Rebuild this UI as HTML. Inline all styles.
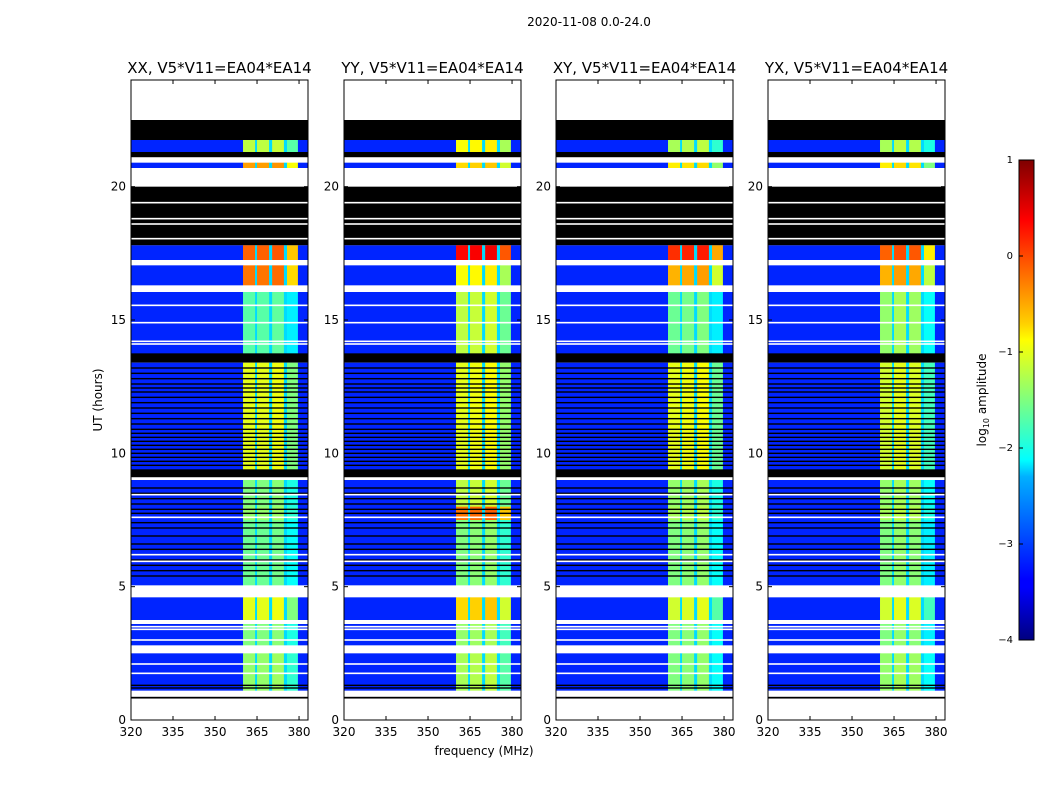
<!DOCTYPE html>
<html><head><meta charset="utf-8">
<style>
html,body{margin:0;padding:0;background:#fff;}
svg{display:block;font-family:"DejaVu Sans","Liberation Sans",sans-serif;}
</style></head>
<body>
<svg id="chart" width="1050" height="800" viewBox="0 0 1050 800">
  <defs>
    <linearGradient id="jet" x1="0" y1="1" x2="0" y2="0">
      <stop offset="0" stop-color="#00007f"/>
      <stop offset="0.11" stop-color="#0000ff"/>
      <stop offset="0.125" stop-color="#0000ff"/>
      <stop offset="0.34" stop-color="#00b0ff"/>
      <stop offset="0.375" stop-color="#00ffff"/>
      <stop offset="0.5" stop-color="#7fff7f"/>
      <stop offset="0.625" stop-color="#ffff00"/>
      <stop offset="0.66" stop-color="#ffd000"/>
      <stop offset="0.875" stop-color="#ff0000"/>
      <stop offset="1" stop-color="#7f0000"/>
    </linearGradient>
  </defs>
  <text x="589" y="26" font-size="12" text-anchor="middle">2020-11-08 0.0-24.0</text>
  <text x="484" y="755" font-size="12" text-anchor="middle">frequency (MHz)</text>
  <text x="0" y="0" font-size="12" text-anchor="middle" transform="translate(102,400) rotate(-90)">UT (hours)</text>
  <g id="panels"></g>
  <g id="colorbar">
    <rect x="1019" y="160" width="15" height="480" fill="url(#jet)" stroke="#000" stroke-width="1"/>
    <text x="0" y="0" font-size="12" text-anchor="middle" transform="translate(986,400) rotate(-90)">log<tspan font-size="8" dy="3">10</tspan><tspan dy="-3"> amplitude</tspan></text>
  </g>
</svg>
<script>
// ---- data ----
const panelTitles = ["XX, V5*V11=EA04*EA14","YY, V5*V11=EA04*EA14","XY, V5*V11=EA04*EA14","YX, V5*V11=EA04*EA14"];
const xTicks = [320,335,350,365,380];
const yTicks = [0,5,10,15,20];
const cbTicks = [1,0,-1,-2,-3,-4];
// frequency segments (MHz): kind 0 = background, 1..4 = bright channel strips, 9 = gap between strips
const segStart = [320,360,364.3,365,369.3,370.4,374.6,375.7,379.6];
const segEnd   = [360,364.3,365,369.3,370.4,374.6,375.7,379.6,383.2];
const segKind  = [0,1,9,2,9,3,9,4,0];
// per-strip offsets (log10 amplitude) per panel
const stripOffset = [[0,0,0.05,-0.5],[0,0.05,0.1,-0.4],[0,0.05,0.1,-0.6],[0,0.1,0.05,-0.7]];
const bgLevel = -3.2;
const gapLevel = -2.3;
// time bands (hours): type 0 data, 1 flagged (white), 2 black
const bandStart = [22.5,21.75,21.3,21.1,20.9,20.7,20.0,17.8,17.25,17.05,16.3,16.05,13.75,13.4,9.4,9.1,9.0,8.0,7.5,5.05,4.6,3.75,3.6,2.8,2.5,1.1,0.87,0.8,0];
const bandEnd   = [24,22.5,21.75,21.3,21.1,20.9,20.7,20.0,17.8,17.25,17.05,16.3,16.05,13.75,13.4,9.4,9.1,9.0,8.0,7.5,5.05,4.6,3.75,3.6,2.8,2.5,1.1,0.87,0.8];
const bandType  = [1,2,0,2,1,0,1,2,0,1,0,1,0,2,0,2,1,0,0,0,1,0,1,0,1,0,1,2,1];
// strip level of each band per panel (only data bands used)
const levelXX = [0,0,-1.2,0,0,-0.4,0,0,-0.1,0,-0.2,0,-1.7,0,-1.0,0,0,-1.5,-1.4,-1.6,0,-1.0,0,-1.5,0,-1.4,0,0,0];
const levelYY = [0,0,-0.9,0,0,-0.7,0,0,0.35,0,-0.9,0,-1.2,0,-1.0,0,0,-1.2,-0.2,-1.5,0,-0.7,0,-1.4,0,-1.3,0,0,0];
const levelXY = [0,0,-1.3,0,0,-0.8,0,0,0.15,0,-0.5,0,-1.6,0,-1.0,0,0,-1.4,-1.3,-1.5,0,-1.1,0,-1.5,0,-1.5,0,0,0];
const levelYX = [0,0,-1.3,0,0,-0.8,0,0,-0.1,0,-0.5,0,-1.4,0,-1.1,0,0,-1.4,-1.3,-1.5,0,-1.1,0,-1.5,0,-1.4,0,0,0];
const panelLevels = [levelXX,levelYY,levelXY,levelYX];
// thin flagged rows (hours)
const blackLines = [13.2,13.0,12.8,12.6,12.45,12.3,12.1,11.9,11.7,11.5,11.3,11.1,10.9,10.75,10.6,10.45,10.3,10.15,10.0,9.85,9.7,9.55,8.7,8.5,8.3,8.1,7.9,7.75,7.4,7.2,6.9,6.6,6.4,6.2,6.0,5.8,5.6,5.4,1.3,1.2];
const whiteLines = [22.55,19.4,18.8,18.6,18.05,15.55,14.9,14.2,14.1,8.45,7.6,6.2,5.95,3.5,3.4,3.0,2.1,1.75];

// ---- scales ----
const panelLeft = [131,344,556,768];
const PW = 177, PT = 80, PB = 720;
const fMin = 320, fMax = 383.2, tMin = 0, tMax = 24;
function xs(p,f){return panelLeft[p] + (f - fMin) / (fMax - fMin) * PW;}
function ys(t){return PB - (t - tMin) / (tMax - tMin) * (PB - PT);}
function cbY(v){return 640 - (v + 4) / 5 * 480;}
function jet(v){
  let t = (v + 4) / 5; t = Math.max(0, Math.min(1, t));
  const c = x => Math.round(255 * Math.max(0, Math.min(1, x)));
  return `rgb(${c(1.5 - Math.abs(4*t - 3))},${c(1.5 - Math.abs(4*t - 2))},${c(1.5 - Math.abs(4*t - 1))})`;
}
const NS = "http://www.w3.org/2000/svg";
function mk(tag, attrs, parent){
  const e = document.createElementNS(NS, tag);
  for (const k in attrs) e.setAttribute(k, attrs[k]);
  parent.appendChild(e); return e;
}
const root = document.getElementById('panels');

for (let p = 0; p < 4; p++) {
  const g = mk('g', {}, root);
  
  
  const L = panelLeft[p];
  const title = mk('text', {x: L + PW/2, y: 73, 'font-size': 15, 'text-anchor': 'middle'}, g);
  title.textContent = panelTitles[p];
  
  
  for (let b = 0; b < bandStart.length; b++) {
    const y0 = ys(bandEnd[b]), y1 = ys(bandStart[b]);
    if (bandType[b] !== 0) {
      const r = mk('rect', {x: L, y: y0, width: PW, height: y1 - y0, fill: bandType[b] === 1 ? '#fff' : '#000'}, g);
      
      
      continue;
    }
    const lvl = panelLevels[p][b];
    for (let s = 0; s < segStart.length; s++) {
      const k = segKind[s];
      let v = k === 0 ? bgLevel : (k === 9 ? gapLevel : lvl + stripOffset[p][k-1]);
      const x0 = xs(p, segStart[s]), x1 = xs(p, segEnd[s]);
      const r = mk('rect', {x: x0, y: y0, width: x1 - x0 + 0.3, height: y1 - y0 + 0.3, fill: jet(v)}, g);
      
      
    }
  }
  for (const t of blackLines) {
    const r = mk('rect', {x: L, y: ys(t) - 0.7, width: PW, height: 1.4, fill: '#000'}, g);
    
    
  }
  for (const t of whiteLines) {
    const r = mk('rect', {x: L, y: ys(t) - 0.8, width: PW, height: 1.6, fill: '#fff'}, g);
    
    
  }
  const fr = mk('rect', {x: L, y: PT, width: PW, height: PB - PT, fill: 'none', stroke: '#000', 'stroke-width': 1}, g);
  
  
  for (const f of xTicks) {
    const x = xs(p, f);
    mk('line', {x1: x, x2: x, y1: PB, y2: PB - 4, stroke: '#000'}, g);
    mk('line', {x1: x, x2: x, y1: PT, y2: PT + 4, stroke: '#000'}, g);
    const tx = mk('text', {x: x, y: PB + 16, 'font-size': 12, 'text-anchor': 'middle'}, g);
    tx.textContent = f;
    
    
  }
  for (const t of yTicks) {
    const y = ys(t);
    mk('line', {x1: L, x2: L + 4, y1: y, y2: y, stroke: '#000'}, g);
    mk('line', {x1: L + PW, x2: L + PW - 4, y1: y, y2: y, stroke: '#000'}, g);
    const tx = mk('text', {x: L - 5, y: y + 4, 'font-size': 12, 'text-anchor': 'end'}, g);
    tx.textContent = t;
    
    
  }
}
const cb = document.getElementById('colorbar');
for (const v of cbTicks) {
  const y = cbY(v);
  mk('line', {x1: 1019, x2: 1023, y1: y, y2: y, stroke: '#000'}, cb);
  const tx = mk('text', {x: 1013, y: y + 3, 'font-size': 10, 'text-anchor': 'end'}, cb);
  tx.textContent = v < 0 ? '\u2212' + (-v) : v;
  
  
}
</script>
</body></html>
